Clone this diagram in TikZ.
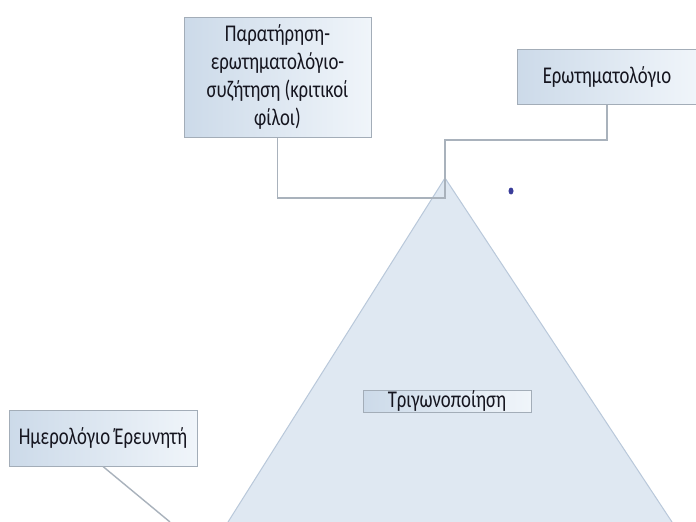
\documentclass[tikz,border=0pt]{standalone}
\usepackage{fontspec}
\setmainfont[FakeStretch=0.78]{Carlito}
\definecolor{boxL}{HTML}{CCDAE9}
\definecolor{boxR}{HTML}{F0F5FA}
\definecolor{boxedge}{HTML}{A3ADB8}
\definecolor{linec}{HTML}{A9B2BC}
\definecolor{trifill}{HTML}{DFE8F2}
\definecolor{triedge}{HTML}{B9C8DA}
\definecolor{txt}{HTML}{15151F}
\definecolor{dotc}{HTML}{3A3D9A}
\tikzset{
  labelbox/.style={draw=boxedge, line width=1pt, left color=boxL, right color=boxR,
    inner sep=0pt, align=center, text=txt, font=\fontsize{24}{27.7}\selectfont},
  conn/.style={draw=linec, line width=1.4pt}
}
\begin{document}
\begin{tikzpicture}[x=1pt,y=-1pt]
\useasboundingbox (0,0) rectangle (696,522);
\fill[white] (0,0) rectangle (696,522);
% triangle
\coordinate (apex) at (445,178);
\coordinate (bl) at (228,522);
\coordinate (br) at (672,522);
\filldraw[fill=trifill, draw=triedge, line width=1pt] (bl) -- (apex) -- (br);
\coordinate (hub) at (445,198);
\coordinate (top) at (445,140);
% boxes
\node[labelbox, minimum width=187, minimum height=120] (obs) at (277.5,77)
  {Παρατήρηση-\\ερωτηματολόγιο-\\συζήτηση (κριτικοί\\φίλοι)};
\node[labelbox, minimum width=180, minimum height=55] (quest) at (607,76.5)
  {Ερωτηματολόγιο};
\node[labelbox, minimum width=168, minimum height=22] (tri) at (447,401)
  {Τριγωνοποίηση};
\node[labelbox, minimum width=188, minimum height=56] (diary) at (103,438)
  {Ημερολόγιο Έρευνητή};
% connectors
\coordinate (dend) at (170,522);
\draw[conn] (obs.south) |- (hub) -- (apex);
\draw[conn] (quest.south) |- (top) -- (apex);
\draw[conn] (diary.south) -- (dend);
% dot
\fill[dotc] (511,191) ellipse [x radius=2.5, y radius=3.5];
\end{tikzpicture}
\end{document}
